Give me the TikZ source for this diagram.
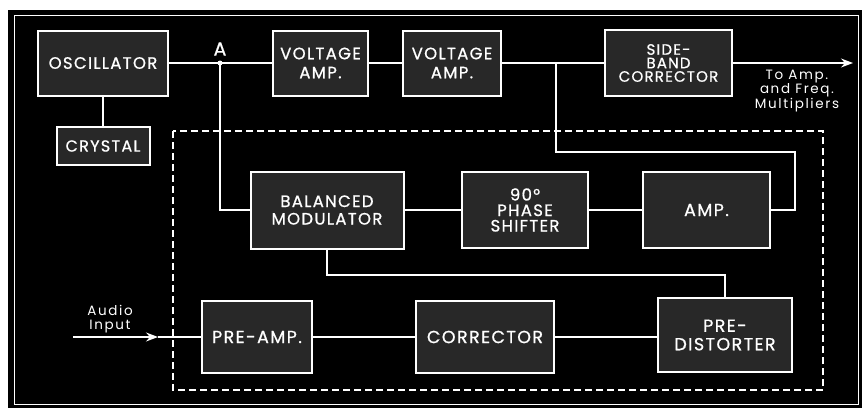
\documentclass[tikz,border=0pt]{standalone}
\usepackage{fontspec}
\newfontfamily\boxfont[LetterSpace=8,FakeBold=0.8]{Poppins}
\newfontfamily\labfont[LetterSpace=12]{Poppins}
\usetikzlibrary{arrows.meta}
\definecolor{boxfill}{RGB}{40,40,40}
\begin{document}
\begin{tikzpicture}[x=1pt,y=-1pt,
  blk/.style={draw=white,line width=2pt,fill=boxfill,text=white,align=center,inner sep=0pt,
    font=\boxfont\fontsize{16.5}{19}\selectfont},
  wire/.style={draw=white,line width=1.3pt},
  lab/.style={text=white,align=center,inner sep=0pt,font=\labfont\fontsize{13.5}{14.5}\selectfont},
  tip/.style={-{Stealth[length=12pt,width=9pt,inset=4pt]}}
]
\useasboundingbox (0,0) rectangle (863,410);
\fill[black] (8,10) rectangle (862,408);
\draw[white,line width=1pt] (14,15) rectangle (858,404);
% dashed enclosure
\draw[white,line width=1.3pt,dash pattern=on 7pt off 4pt] (173,131) rectangle (823,390);

% boxes
\node[blk,minimum width=130pt,minimum height=65pt] (osc) at (103,63) {OSCILLATOR};
\node[blk,minimum width=93pt,minimum height=38pt,font=\boxfont\fontsize{16}{19}\selectfont] (cry) at (103,146) {CRYSTAL};
\node[blk,minimum width=95pt,minimum height=65pt] (va1) at (320.5,63) {VOLTAGE\\AMP.};
\node[blk,minimum width=98pt,minimum height=65pt] (va2) at (452,63) {VOLTAGE\\AMP.};
\node[blk,minimum width=127pt,minimum height=66pt,font=\boxfont\fontsize{15}{13.5}\selectfont] (sbc) at (668.5,63) {SIDE-\\BAND\\CORRECTOR};
\node[blk,minimum width=153pt,minimum height=77pt,font=\boxfont\fontsize{16.5}{17.5}\selectfont] (bm) at (327,210) {BALANCED\\MODULATOR};
\node[blk,minimum width=126pt,minimum height=76pt,font=\boxfont\fontsize{16.5}{15.5}\selectfont] (ps) at (525,210) {90°\\PHASE\\SHIFTER};
\node[blk,minimum width=127pt,minimum height=76pt,font=\boxfont\fontsize{17.5}{19}\selectfont] (amp) at (706.5,210) {AMP.};
\node[blk,minimum width=110pt,minimum height=72pt,font=\boxfont\fontsize{17.5}{19}\selectfont] (pre) at (257,337) {PRE-AMP.};
\node[blk,minimum width=138pt,minimum height=72pt,font=\boxfont\fontsize{17.5}{19}\selectfont] (cor) at (485,337) {CORRECTOR};
\node[blk,minimum width=134pt,minimum height=74pt,font=\boxfont\fontsize{17.5}{18.5}\selectfont] (pd) at (725,335) {PRE-\\DISTORTER};

% labels
\node[lab,font=\boxfont\fontsize{19}{19}\selectfont] (Alab) at (220,49) {A};
\node[lab] (outlab) at (797,91) {To Amp.\\and Freq.\\Multipliers};
\node[lab] (inlab) at (110,319) {Audio\\Input};

% connectors
\coordinate (A) at (220,63);
\coordinate (B) at (556,63);
\coordinate (C) at (795,152);
\coordinate (D) at (327,275);
\coordinate (out) at (853,63);
\coordinate (in) at (73,337);
\coordinate (inm) at (158,337);

\draw[wire] (osc.east) -- (va1.west);
\fill[white] (A) circle (2.5pt);
\draw[wire] (osc.south) -- (cry.north);
\draw[wire] (va1.east) -- (va2.west);
\draw[wire] (va2.east) -- (sbc.west);
\draw[wire,tip] (sbc.east) -- (out);
\draw[wire] (B) |- (C) |- (amp.east);
\draw[wire] (A) |- (bm.west);
\draw[wire] (bm.east) -- (ps.west);
\draw[wire] (ps.east) -- (amp.west);
\draw[wire] (bm.south) |- (D) -| (pd.north);
\draw[wire,tip] (in) -- (inm);
\draw[wire] (inm) -- (pre.west);
\draw[wire] (pre.east) -- (cor.west);
\draw[wire] (cor.east) -- (cor.east -| pd.west);
\end{tikzpicture}
\end{document}
